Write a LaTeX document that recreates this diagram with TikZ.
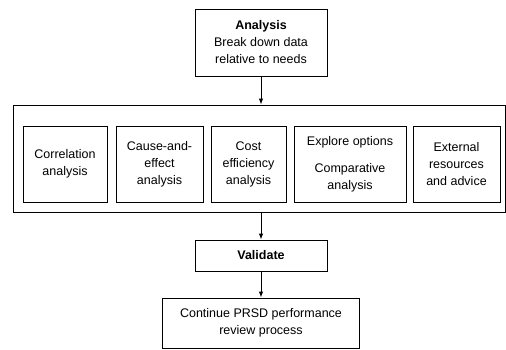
\documentclass[tikz,border=0pt]{standalone}
\usepackage{fontspec}
\setmainfont{Liberation Sans}
\usetikzlibrary{arrows.meta}
\begin{document}
\begin{tikzpicture}[x=1pt,y=-1pt,
    box/.style={draw, line width=0.9pt, align=center, inner sep=0pt,
        font=\fontsize{12.5}{17}\selectfont},
    flow/.style={-{Latex[length=6pt,width=4.5pt]}, line width=0.9pt}]
                \useasboundingbox (0,0) rectangle (506,349) ;
                \node[box, minimum width=132, minimum height=67] (analysis) at (261,42.5)
                    {\textbf{Analysis}\\Break down data\\relative to needs} ;
                \node[box, minimum width=492, minimum height=107] (options) at (259,158.5) {} ;
                \node[box, minimum width=84, minimum height=76] (correlation) at (65,164)
                    {Correlation\\analysis} ;
                \node[box, minimum width=87, minimum height=76] (cause) at (159.5,164)
                    {Cause-and-\\effect\\analysis} ;
                \node[box, minimum width=75, minimum height=76] (cost) at (248.5,164)
                    {Cost\\efficiency\\analysis} ;
                \node[box, minimum width=112, minimum height=76] (explore) at (350,164)
                    {Explore options\\[10pt]Comparative\\analysis} ;
                \node[box, minimum width=87, minimum height=76] (external) at (456.5,164)
                    {External\\resources\\and advice} ;
                \node[box, minimum width=132, minimum height=31] (validate) at (261,255.5)
                    {\textbf{Validate}} ;
                \node[box, minimum width=197, minimum height=50] (continue) at (261,323)
                    {Continue PRSD performance\\review process} ;
                \draw[flow] (analysis) -- (analysis |- options.north) ;
                \draw[flow] (options.south -| validate) -- (validate) ;
                \draw[flow] (validate) -- (continue) ;
            \end{tikzpicture}
\end{document}
